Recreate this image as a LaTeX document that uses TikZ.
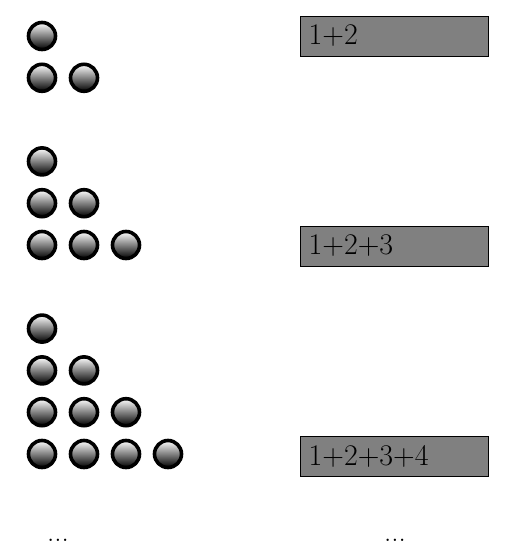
\documentclass[tikz,border=0pt]{standalone}
\begin{document}
\begin{tikzpicture}[x=1pt,y=-1pt,
  ball/.style={circle,draw=black,line width=3.6pt,minimum size=27pt,inner sep=0pt,
    top color=white,bottom color=black,shading angle=0},
  sumbox/.style={draw=black,line width=1pt,fill=gray,minimum width=188pt,minimum height=40pt,
    anchor=west,inner sep=0pt},
  sumtext/.style={anchor=west,inner sep=0pt,font=\fontsize{30}{36}\selectfont},
  dotstext/.style={inner sep=0pt,font=\fontsize{29}{34}\selectfont}]
\useasboundingbox (0,0) rectangle (522,549);
% group 1
\node[ball] (a11) at (42,36) {};
\node[ball] (a21) at (42,77.8) {};
\node[ball] (a22) at (84,77.8) {};
% group 2
\node[ball] (b11) at (42,161.4) {};
\node[ball] (b21) at (42,203.2) {};
\node[ball] (b22) at (84,203.2) {};
\node[ball] (b31) at (42,245) {};
\node[ball] (b32) at (84,245) {};
\node[ball] (b33) at (126,245) {};
% group 3
\node[ball] (c11) at (42,328.6) {};
\node[ball] (c21) at (42,370.4) {};
\node[ball] (c22) at (84,370.4) {};
\node[ball] (c31) at (42,412.2) {};
\node[ball] (c32) at (84,412.2) {};
\node[ball] (c33) at (126,412.2) {};
\node[ball] (c41) at (42,454) {};
\node[ball] (c42) at (84,454) {};
\node[ball] (c43) at (126,454) {};
\node[ball] (c44) at (168,454) {};
% boxes
\node[sumbox] (s1) at (300,36) {};
\node[sumtext] (t1) at (308.5,36) {1+2};
\node[sumbox] (s2) at (300,246) {};
\node[sumtext] (t2) at (308.5,246) {1+2+3};
\node[sumbox] (s3) at (300,456) {};
\node[sumtext] (t3) at (308.5,456) {1+2+3+4};
% dots
\node[dotstext,anchor=base] (d1) at (58,541.5) {...};
\node[dotstext,anchor=base] (d2) at (395,541.5) {...};
\end{tikzpicture}
\end{document}
